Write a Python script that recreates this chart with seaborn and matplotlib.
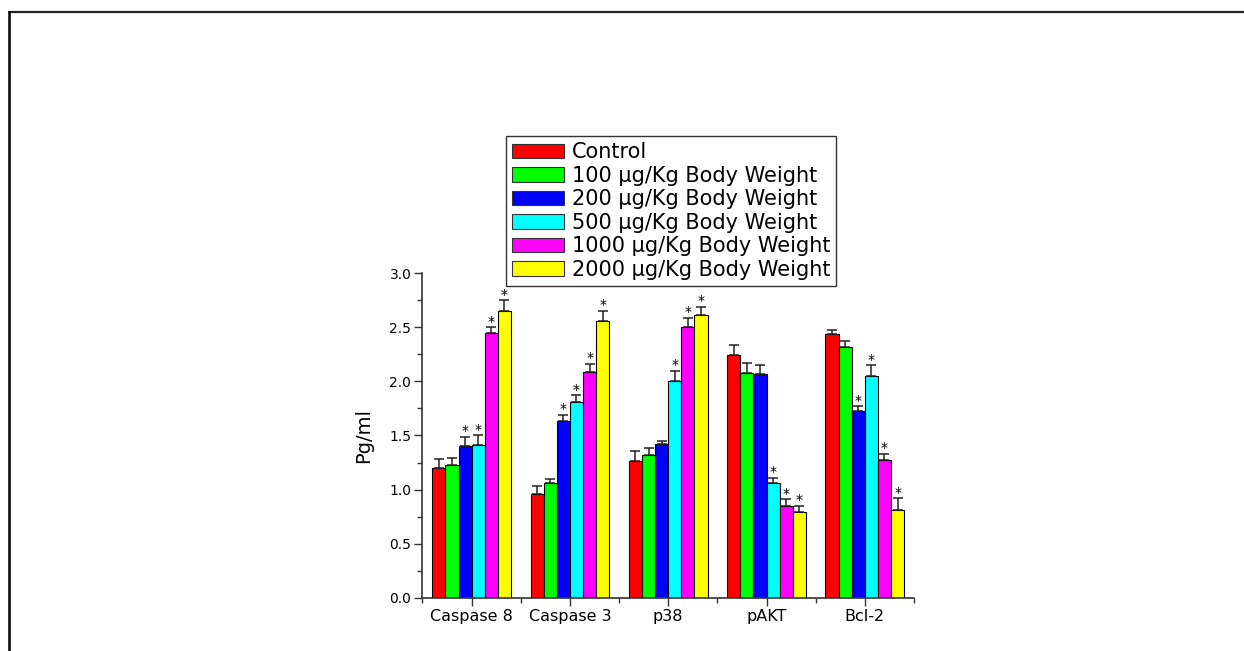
import numpy as np
import pandas as pd
import matplotlib
matplotlib.use("Agg")
import matplotlib.pyplot as plt
from matplotlib.lines import Line2D
from matplotlib.patches import Patch
from matplotlib.ticker import MultipleLocator, FixedLocator
import seaborn as sns

# ---------------- data ----------------
markers = ["Caspase 8", "Caspase 3", "p38", "pAKT", "Bcl-2"]
groups = ["Control",
          "100 \u03bcg/Kg Body Weight",
          "200 \u03bcg/Kg Body Weight",
          "500 \u03bcg/Kg Body Weight",
          "1000 \u03bcg/Kg Body Weight",
          "2000 \u03bcg/Kg Body Weight"]
colors = ["#FF0000", "#00FF00", "#0000FF", "#00FFFF", "#FF00FF", "#FFFF00"]

control   = [1.20, 0.96, 1.26, 2.24, 2.44]
dose_100  = [1.23, 1.06, 1.32, 2.08, 2.32]
dose_200  = [1.40, 1.63, 1.42, 2.07, 1.73]
dose_500  = [1.41, 1.81, 2.00, 1.06, 2.05]
dose_1000 = [2.45, 2.09, 2.50, 0.85, 1.27]
dose_2000 = [2.65, 2.56, 2.61, 0.79, 0.81]

err_control   = [0.08, 0.07, 0.10, 0.10, 0.04]
err_100       = [0.06, 0.04, 0.06, 0.09, 0.05]
err_200       = [0.09, 0.06, 0.03, 0.08, 0.04]
err_500       = [0.09, 0.06, 0.10, 0.05, 0.10]
err_1000      = [0.05, 0.07, 0.09, 0.06, 0.06]
err_2000      = [0.10, 0.09, 0.08, 0.06, 0.11]

sig_control = [0, 0, 0, 0, 0]
sig_100     = [0, 0, 0, 0, 0]
sig_200     = [1, 1, 0, 0, 1]
sig_500     = [1, 1, 1, 1, 1]
sig_1000    = [1, 1, 1, 1, 1]
sig_2000    = [1, 1, 1, 1, 1]

y_label = "Pg/ml"
y_ticks = [0.0, 0.5, 1.0, 1.5, 2.0, 2.5, 3.0]

values = [control, dose_100, dose_200, dose_500, dose_1000, dose_2000]
errors = [err_control, err_100, err_200, err_500, err_1000, err_2000]
sigs = [sig_control, sig_100, sig_200, sig_500, sig_1000, sig_2000]

df = pd.DataFrame([
    {"marker": m, "group": g, "value": v}
    for g, vals in zip(groups, values)
    for m, v in zip(markers, vals)
])

# ---------------- figure ----------------
sns.set_style("ticks")
plt.rcParams["font.family"] = ["DejaVu Sans"]
plt.rcParams["text.color"] = "black"
plt.rcParams["xtick.color"] = "black"
plt.rcParams["ytick.color"] = "black"

fig = plt.figure(figsize=(12.44, 6.51), dpi=100)
ax = fig.add_axes([0.3396, 0.0819, 0.3951, 0.4983])

sns.barplot(data=df, x="marker", y="value", hue="group", order=markers,
            hue_order=groups, palette=colors, errorbar=None, width=0.8,
            edgecolor="black", linewidth=0.8, saturation=1, ax=ax, legend=False)

# error bars (upper only) and significance stars
for cont, errs, sg in zip(ax.containers, errors, sigs):
    xs = [p.get_x() + p.get_width() / 2 for p in cont]
    hs = [p.get_height() for p in cont]
    ax.errorbar(xs, hs, yerr=[np.zeros(len(errs)), errs], fmt="none",
                ecolor="#222222", elinewidth=1.1, capsize=3.5, capthick=1.1,
                zorder=1)
    for x, h, e, s in zip(xs, hs, errs, sg):
        if s:
            ax.annotate("*", (x, h + e), xytext=(0, 1.2),
                        textcoords="offset points", ha="center",
                        va="baseline", fontsize=10, color="black")

ax.set_xlim(-0.5, 4.5)
ax.set_ylim(0, 3.0)
ax.yaxis.set_major_locator(FixedLocator(y_ticks))
ax.yaxis.set_minor_locator(MultipleLocator(0.25))
ax.set_yticklabels([f"{t:.1f}" for t in y_ticks], fontsize=10, color="black")
ax.xaxis.set_minor_locator(FixedLocator(np.arange(-0.5, 4.6, 1.0)))
ax.set_xticks(range(len(markers)))
ax.set_xticklabels(markers, fontsize=11.5, color="black")
ax.tick_params(axis="both", which="major", direction="out", length=6,
               width=1.0, color="#333333", pad=2)
ax.tick_params(axis="both", which="minor", direction="out", length=3.5,
               width=1.0, color="#333333")
ax.set_xlabel("")
ax.set_ylabel(y_label, fontsize=14, labelpad=12, color="black")
for side in ["top", "right"]:
    ax.spines[side].set_visible(False)
for side in ["left", "bottom"]:
    ax.spines[side].set_linewidth(1.2)
    ax.spines[side].set_color("#333333")

# legend
handles = [Patch(facecolor=c, edgecolor="#333333", linewidth=0.8) for c in colors]
leg = ax.legend(handles, groups, loc="upper left",
                bbox_to_anchor=(506 / 1244, 1 - 136 / 651),
                bbox_transform=fig.transFigure, fontsize=15,
                frameon=True, fancybox=False, edgecolor="#333333",
                framealpha=1, borderpad=0.3, labelspacing=0.17,
                handlelength=2.5, handleheight=0.7, handletextpad=0.35,
                borderaxespad=0)
leg.get_frame().set_linewidth(1.0)
for t in leg.get_texts():
    t.set_color("black")

# outer frame (top and left lines)
fig.add_artist(Line2D([8.5 / 1244, 1.0], [1 - 11.5 / 651, 1 - 11.5 / 651],
                      transform=fig.transFigure, color="#222222", lw=1.6))
fig.add_artist(Line2D([8.5 / 1244, 8.5 / 1244], [0.0, 1 - 11.5 / 651],
                      transform=fig.transFigure, color="black", lw=1.8))

fig.savefig("out.png", dpi=100, facecolor="white")
